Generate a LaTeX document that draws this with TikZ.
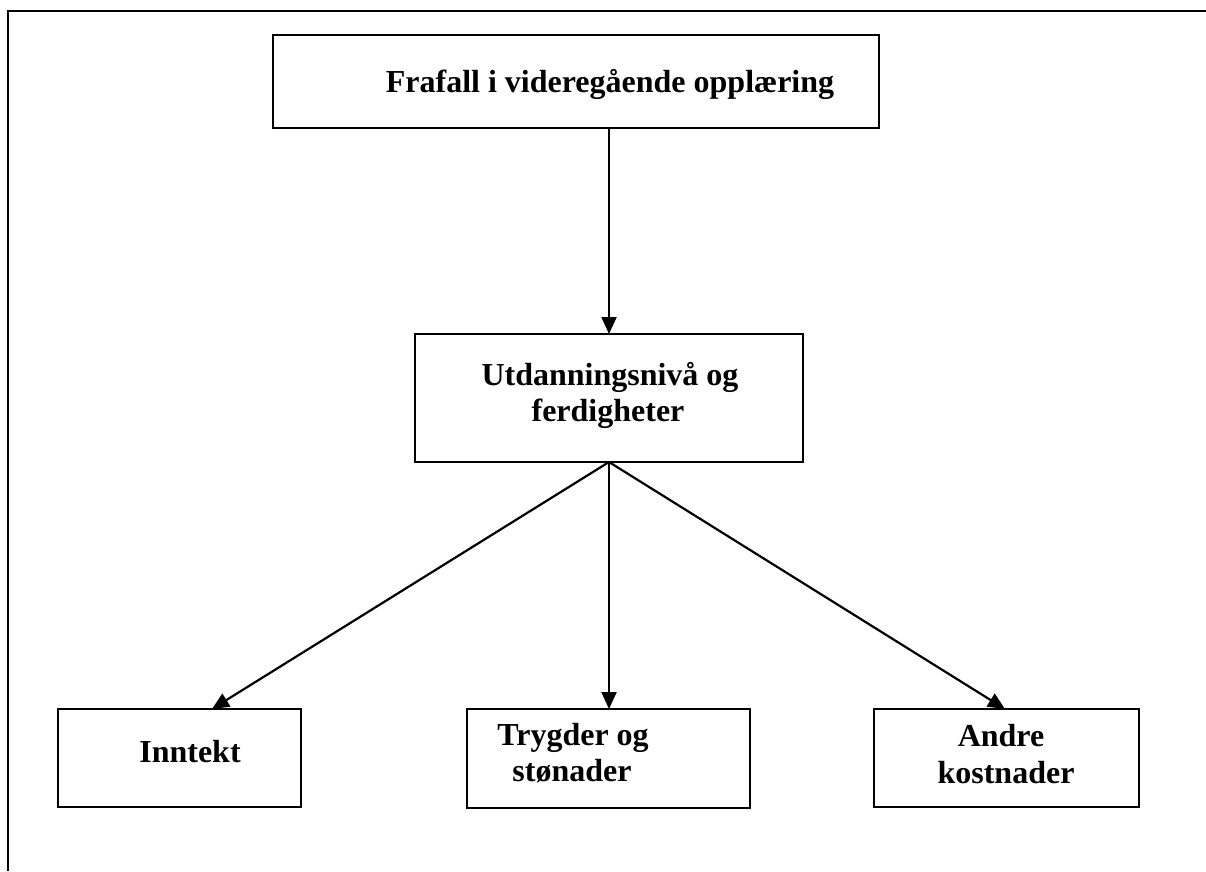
\documentclass[tikz,border=0pt]{standalone}
\usepackage{fontspec}
\setmainfont{Liberation Serif}
\usetikzlibrary{arrows.meta}
\begin{document}
\begin{tikzpicture}[x=1pt,y=-1pt,
  box/.style={draw=black,line width=2.4pt},
  lbl/.style={font=\fontsize{32}{37}\selectfont\bfseries,align=center,inner sep=0pt},
  arr/.style={line width=2.2pt,-{Triangle[length=17pt,width=15pt]}}]
\useasboundingbox (0,0) rectangle (1206,871);
% outer frame (top and left only)
\coordinate (frameBL) at (8,871);
\coordinate (frameTL) at (8,11);
\coordinate (frameTR) at (1206,11);
\draw[line width=2.4pt] (frameBL) -- (frameTL) -- (frameTR);
% boxes
\draw[box] (273,35) rectangle (879,128);
\coordinate (topB) at (609,128);
\node[lbl,anchor=base] (ttop) at (610,92) {Frafall i videregående opplæring};
\draw[box] (415,334) rectangle (803,462);
\coordinate (midT) at (609,334);
\coordinate (midB) at (609,462);
\node[lbl,anchor=base] (tmid1) at (610,385) {Utdanningsnivå og};
\node[lbl,anchor=base] (tmid2) at (608,421) {ferdigheter};
\draw[box] (58,709) rectangle (301,807);
\coordinate (b1) at (212,709);
\node[lbl,anchor=base] (tb1) at (190,762) {Inntekt};
\draw[box] (467,709) rectangle (750,808);
\coordinate (b2) at (609,709);
\node[lbl,anchor=base] (tb21) at (573,745) {Trygder og};
\node[lbl,anchor=base] (tb22) at (572,781) {stønader};
\draw[box] (874,709) rectangle (1139,807);
\coordinate (b3) at (1005,709);
\node[lbl,anchor=base] (tb31) at (1001,746) {Andre};
\node[lbl,anchor=base] (tb32) at (1006,783) {kostnader};
% arrows
\draw[arr] (topB) -- (midT);
\draw[arr] (midB) -- (b1);
\draw[arr] (midB) -- (b2);
\draw[arr] (midB) -- (b3);
\end{tikzpicture}
\end{document}
